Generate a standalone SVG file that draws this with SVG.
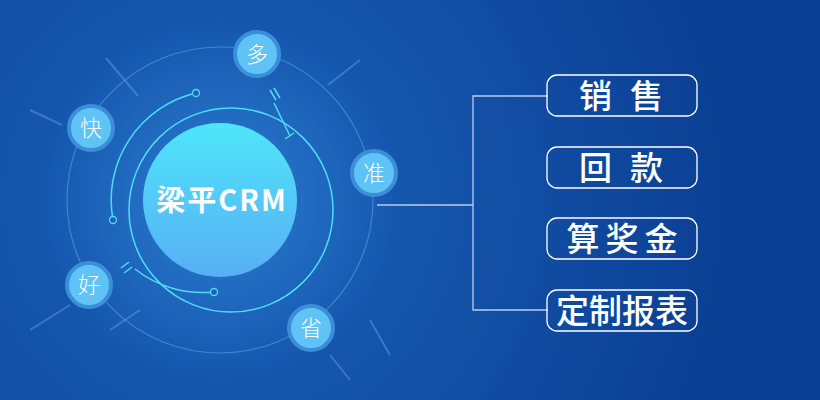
<svg xmlns="http://www.w3.org/2000/svg" width="820" height="400" viewBox="0 0 820 400">
<defs>
<radialGradient id="bg" cx="220" cy="200" r="520" gradientUnits="userSpaceOnUse">
<stop offset="0" stop-color="#2b7fd3"/><stop offset="0.35" stop-color="#1556ad"/><stop offset="1" stop-color="#0a3f93"/>
</radialGradient>
<linearGradient id="core" x1="0" y1="0" x2="0" y2="1">
<stop offset="0" stop-color="#4ee6fb"/><stop offset="1" stop-color="#58aef4"/>
</linearGradient>
<style>
.nd{fill:#5fc4f5;stroke:#3b8fd8;stroke-width:4}
.nt{font-family:"Noto Sans CJK SC",sans-serif;font-size:22px;font-weight:300;fill:#fff;text-anchor:middle}
.bx{fill:none;stroke:#fff;stroke-width:1.3}
.bt{font-family:"Noto Sans CJK SC",sans-serif;font-size:33px;font-weight:500;fill:#fff;text-anchor:middle}
.cy{fill:none;stroke:#4fdcf8;stroke-width:1.5}
.fl{stroke:#6fa3e0;stroke-width:2;opacity:0.45}
</style>
</defs>
<rect width="820" height="400" fill="url(#bg)"/>
<g id="decor">
<line class="fl" x1="106" y1="58" x2="138" y2="96"/>
<line class="fl" x1="360" y1="60" x2="328" y2="85"/>
<line class="fl" x1="30" y1="110" x2="62" y2="125"/>
<line class="fl" x1="30" y1="330" x2="70" y2="305"/>
<line class="fl" x1="110" y1="330" x2="140" y2="310"/>
<line class="fl" x1="370" y1="320" x2="390" y2="355"/>
<line class="fl" x1="350" y1="380" x2="330" y2="355"/>
<circle cx="220" cy="200" r="153" fill="none" stroke="#5f9ee0" stroke-width="1.2" opacity="0.6"/>
<circle cx="231" cy="210" r="102" class="cy"/>
<path class="cy" d="M196 93 A110 110 0 0 0 113 220"/>
<circle cx="196" cy="93" r="3.5" fill="#1b63b8" stroke="#4fdcf8" stroke-width="1.3"/>
<circle cx="113" cy="220" r="3.5" fill="#1b63b8" stroke="#4fdcf8" stroke-width="1.3"/>
<path class="cy" d="M135 269 A109 109 0 0 0 214 292"/>
<circle cx="214" cy="292" r="3.5" fill="#1b63b8" stroke="#4fdcf8" stroke-width="1.3"/>
<polyline class="cy" points="274,103 290,136"/>
<line class="cy" x1="285" y1="139" x2="294" y2="133"/>
<line class="cy" x1="270" y1="90" x2="276" y2="100"/>
<line class="cy" x1="274" y1="88" x2="280" y2="98"/>
<line class="cy" x1="121" y1="268" x2="129" y2="262"/>
<line class="cy" x1="124" y1="273" x2="132" y2="267"/>
</g>
<g id="core-node">
<circle cx="220" cy="200" r="77" fill="url(#core)"/>
<text x="222" y="211" font-family="'Noto Sans CJK SC',sans-serif" font-size="29" font-weight="bold" letter-spacing="2" fill="#fff" text-anchor="middle">梁平CRM</text>
</g>
<g id="n-duo"><circle class="nd" cx="257" cy="54" r="22"/><text class="nt" x="257" y="62">多</text></g>
<g id="n-kuai"><circle class="nd" cx="91" cy="128" r="22"/><text class="nt" x="91" y="136">快</text></g>
<g id="n-zhun"><circle class="nd" cx="374" cy="173" r="22"/><text class="nt" x="374" y="181">准</text></g>
<g id="n-hao"><circle class="nd" cx="89" cy="285" r="22"/><text class="nt" x="89" y="293">好</text></g>
<g id="n-sheng"><circle class="nd" cx="311" cy="328" r="22"/><text class="nt" x="311" y="336">省</text></g>
<g id="connectors" fill="none" stroke="#b9cdee" stroke-width="1.3">
<polyline points="377,205 473,205"/>
<polyline points="548,96 473,96 473,310 548,310"/>
</g>
<g id="b1"><rect class="bx" x="547" y="75" width="150" height="41" rx="10"/><text class="bt" x="630" y="108" letter-spacing="18">销售</text></g>
<g id="b2"><rect class="bx" x="547" y="147" width="150" height="41" rx="10"/><text class="bt" x="630" y="180" letter-spacing="18">回款</text></g>
<g id="b3"><rect class="bx" x="547" y="218" width="150" height="41" rx="10"/><text class="bt" x="625" y="251" letter-spacing="6">算奖金</text></g>
<g id="b4"><rect class="bx" x="547" y="290" width="150" height="41" rx="10"/><text class="bt" x="622" y="323" font-size="34">定制报表</text></g>
</svg>
